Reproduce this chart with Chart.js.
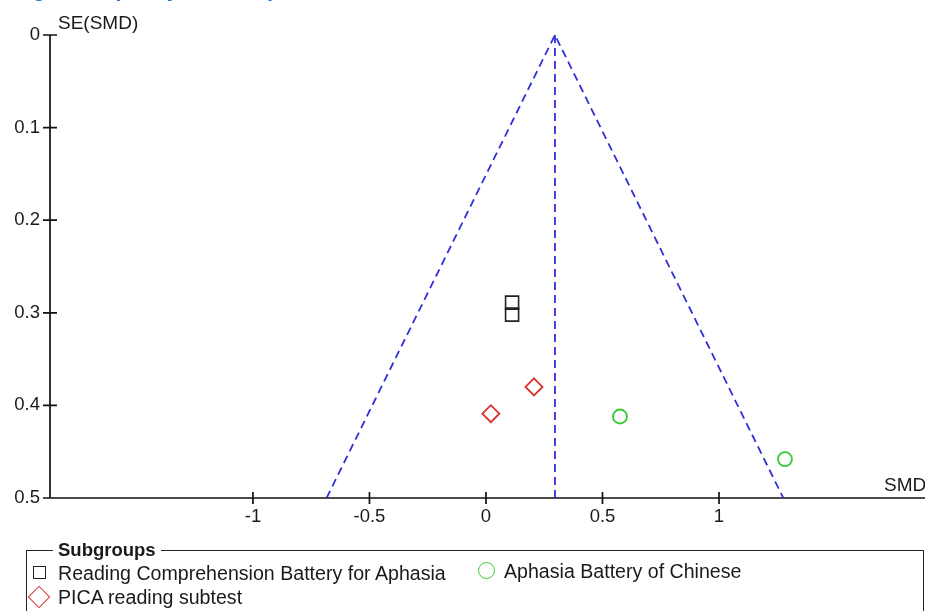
<!DOCTYPE html>
<html><head><meta charset="utf-8">
<script src="https://cdn.jsdelivr.net/npm/chart.js@4"></script>
<style>
html,body{margin:0;padding:0;background:#fff;overflow:hidden}
#wrap{position:relative;width:925px;height:611px;overflow:hidden;font-family:"Liberation Sans",Arial,sans-serif;color:#1a1a1a}
#c{position:absolute;left:0;top:0}
.lbl{position:absolute;font-size:19px;white-space:nowrap;line-height:19px}
#title{position:absolute;left:14px;top:-21px;font-weight:bold;font-size:21px;line-height:21px;color:#1f6fd1;white-space:nowrap}
fieldset{position:absolute;left:26px;top:541px;width:898px;height:120px;border:1.5px solid #222;margin:0;padding:0 0 0 26px;box-sizing:border-box}
legend{font-weight:bold;font-size:18.5px;padding:0 5px;line-height:18px}
.row{position:absolute;font-size:19.6px;white-space:nowrap;line-height:20px}
.sq{position:absolute;left:33px;top:566px;width:11px;height:11px;border:1.6px solid #222}
.ci{position:absolute;left:478px;top:562px;width:15px;height:15px;border:1.8px solid #33cc33;border-radius:50%}
.di{position:absolute;left:31px;top:589px;width:14px;height:14px;border:1.8px solid #d93030;transform:rotate(45deg)}
</style>
</head><body>
<div id="wrap">
<canvas id="c" width="925" height="611"></canvas>
<div id="title">Figure 10 (Study duration)</div>
<div class="lbl" style="left:58px;top:13px">SE(SMD)</div>
<div class="lbl" style="left:884px;top:475px">SMD</div>
<fieldset><legend>Subgroups</legend></fieldset>
<div class="sq"></div>
<div class="row" style="left:58px;top:563px">Reading Comprehension Battery for Aphasia</div>
<div class="ci"></div>
<div class="row" style="left:504px;top:561px">Aphasia Battery of Chinese</div>
<div class="di"></div>
<div class="row" style="left:58px;top:587px">PICA reading subtest</div>
</div>
<script>
const xTickValues = [-1, -0.5, 0, 0.5, 1];
const xTickLabels = ["-1", "-0.5", "0", "0.5", "1"];
const yTickValues = [0, 0.1, 0.2, 0.3, 0.4, 0.5];
const yTickLabels = ["0", "0.1", "0.2", "0.3", "0.4", "0.5"];

const rcbaSMD = [0.112, 0.112];
const rcbaSE = [0.289, 0.302];
const picaSMD = [0.206, 0.021];
const picaSE = [0.380, 0.409];
const abcSMD = [0.575, 1.283];
const abcSE = [0.412, 0.458];
const funnelSMD = [-0.684, 0.296, 1.276];
const funnelSE = [0.5, 0, 0.5];
const pooledSMD = [0.296, 0.296];
const pooledSE = [0, 0.5];

const pts = (xs, ys) => xs.map((v, i) => ({x: v, y: ys[i]}));
const FONT = '"Liberation Sans", Arial, sans-serif';

const axesPlugin = {
  id: 'axesPlugin',
  beforeDatasetsDraw(chart) {
    const {ctx, chartArea: a, scales: {x, y}} = chart;
    ctx.save();
    ctx.strokeStyle = '#111';
    ctx.lineWidth = 1.7;
    ctx.beginPath();
    ctx.moveTo(a.left, a.top);
    ctx.lineTo(a.left, a.bottom);
    ctx.lineTo(a.right, a.bottom);
    yTickValues.forEach(v => {
      const py = y.getPixelForValue(v);
      ctx.moveTo(a.left - 7, py); ctx.lineTo(a.left + 7, py);
    });
    xTickValues.forEach(v => {
      const px = x.getPixelForValue(v);
      ctx.moveTo(px, a.bottom - 6); ctx.lineTo(px, a.bottom + 6);
    });
    ctx.stroke();
    ctx.restore();
  }
};

const dashStyle = {showLine: true, pointRadius: 0, borderColor: '#3030d8', borderWidth: 1.8, borderDash: [8, 5], fill: false};

new Chart(document.getElementById('c'), {
  type: 'scatter',
  data: {
    datasets: [
      Object.assign({label: 'Funnel', data: pts(funnelSMD, funnelSE)}, dashStyle),
      Object.assign({label: 'Pooled', data: pts(pooledSMD, pooledSE)}, dashStyle),
      {label: 'Reading Comprehension Battery for Aphasia', data: pts(rcbaSMD, rcbaSE), pointStyle: 'rect', pointRadius: 9.2, borderColor: '#222', borderWidth: 1.6, backgroundColor: 'rgba(0,0,0,0)'},
      {label: 'PICA reading subtest', data: pts(picaSMD, picaSE), pointStyle: 'rectRot', pointRadius: 8.5, borderColor: '#d93030', borderWidth: 1.8, backgroundColor: 'rgba(0,0,0,0)'},
      {label: 'Aphasia Battery of Chinese', data: pts(abcSMD, abcSE), pointStyle: 'circle', pointRadius: 7, borderColor: '#33cc33', borderWidth: 1.8, backgroundColor: 'rgba(0,0,0,0)'}
    ]
  },
  options: {
    responsive: false,
    animation: false,
    devicePixelRatio: 1,
    layout: {autoPadding: false, padding: {top: 35, left: 0, right: 0, bottom: 0}},
    plugins: {legend: {display: false}, tooltip: {enabled: false}},
    scales: {
      x: {
        type: 'linear', min: -1.871, max: 1.884,
        afterBuildTicks: s => { s.ticks = xTickValues.map(v => ({value: v})); },
        afterFit: s => { s.height = 113; s.paddingLeft = 0; s.paddingRight = 0; },
        grid: {display: false, drawTicks: false},
        border: {display: false},
        ticks: {padding: 8, color: '#1a1a1a', font: {size: 18.5, family: FONT}, maxRotation: 0, autoSkip: false,
                callback: v => xTickLabels[xTickValues.indexOf(v)]}
      },
      y: {
        type: 'linear', reverse: true, min: 0, max: 0.5,
        afterBuildTicks: s => { s.ticks = yTickValues.map(v => ({value: v})); },
        afterFit: s => { s.width = 50; s.paddingTop = 0; s.paddingBottom = 0; },
        grid: {display: false, drawTicks: false},
        border: {display: false},
        ticks: {padding: 10, color: '#1a1a1a', font: {size: 18.5, family: FONT}, autoSkip: false,
                callback: v => yTickLabels[yTickValues.indexOf(v)]}
      }
    }
  },
  plugins: [axesPlugin]
});
</script>
</body></html>
